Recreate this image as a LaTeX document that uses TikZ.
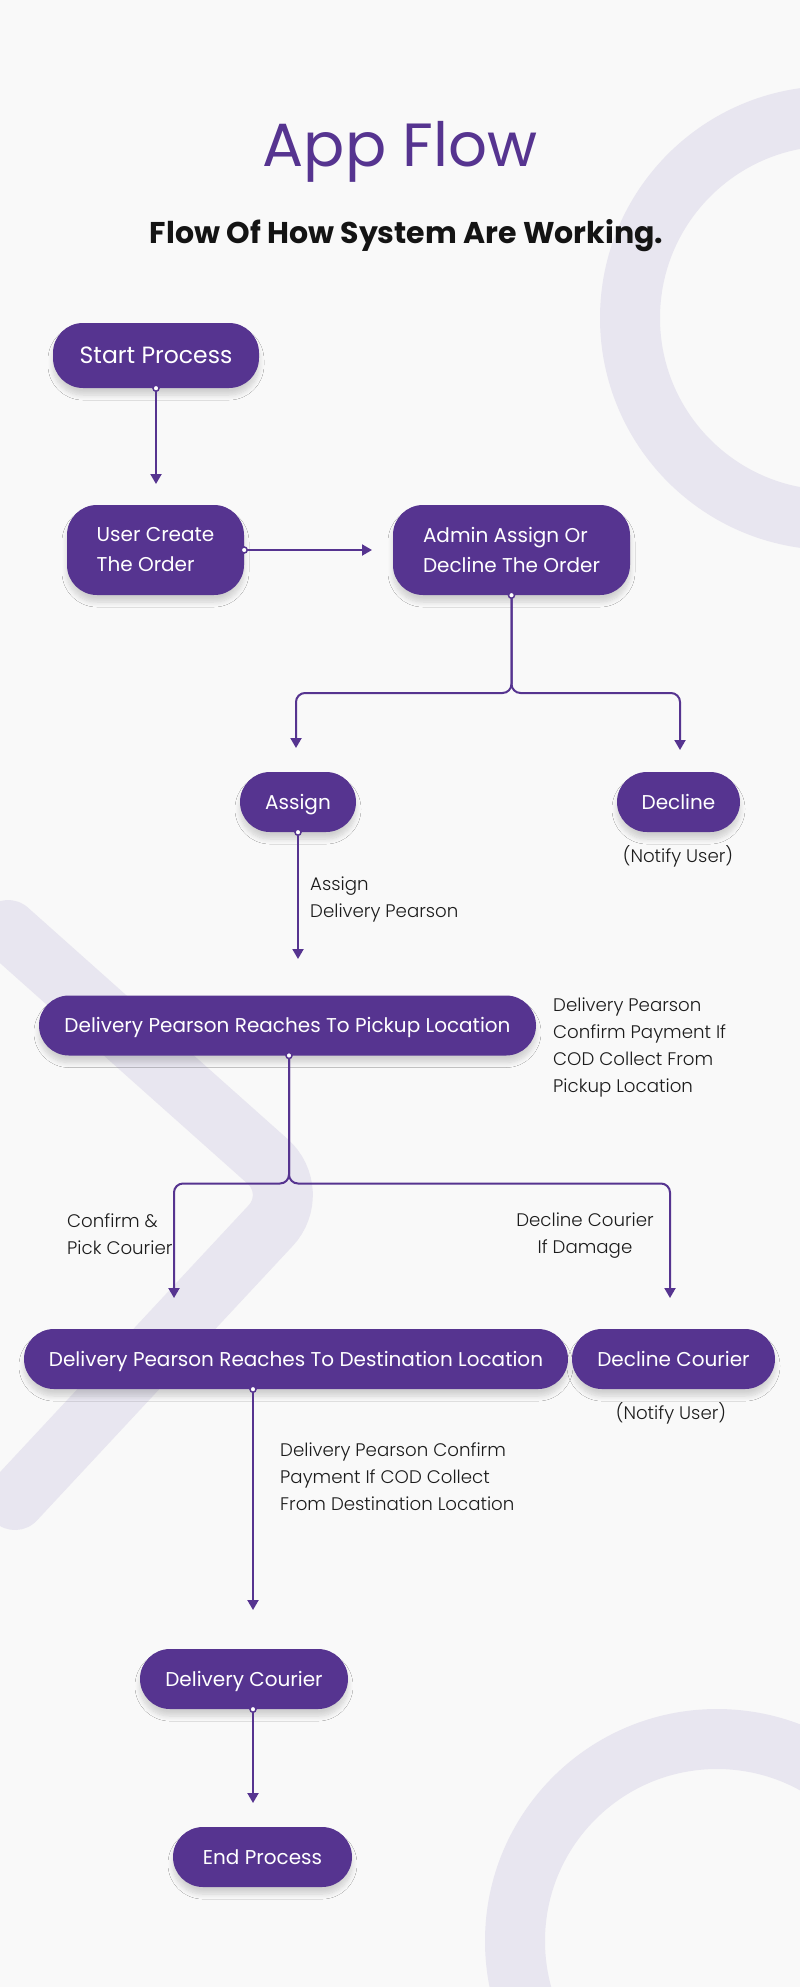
\documentclass[tikz,border=0pt]{standalone}
\usepackage{fontspec}
\setmainfont{Poppins}
\newfontfamily\lightfont{Poppins Light}
\usetikzlibrary{arrows.meta,shadows.blur}
\definecolor{bgc}{HTML}{F9F9F9}
\definecolor{ringc}{HTML}{E8E6F0}
\definecolor{purp}{HTML}{563490}
\definecolor{txtc}{HTML}{1C1C1C}
\definecolor{subc}{HTML}{141414}
\begin{document}
\begin{tikzpicture}[x=1pt,y=-1pt,
  box/.style={fill=purp, rounded corners=30pt, text=white, inner sep=0pt,
    font=\fontsize{20}{30}\selectfont,
    blur shadow={shadow xshift=0pt, shadow yshift=-7pt, shadow blur radius=5pt, shadow opacity=16, shadow blur steps=8}},
  one/.style={text height=15pt, text depth=1pt},
  lbl/.style={text=txtc, inner sep=0pt, font=\lightfont\fontsize{18.2}{27}\selectfont},
  conn/.style={draw=purp, line width=2pt},
  arr/.style={conn, -{Triangle[width=11pt,length=10pt]}},
  dot/.style={circle, fill=white, draw=purp, line width=1.5pt, inner sep=0pt, minimum size=6pt},
  deco/.style={draw=ringc, line width=60pt}
]
\useasboundingbox (0,0) rectangle (800,1987);
\clip (0,0) rectangle (800,1987);
\fill[bgc] (0,0) rectangle (800,1987);
% decorative background
\draw[deco] (832,318) circle[radius=202pt];
\draw[deco] (717,1941) circle[radius=202pt];
\draw[deco, line cap=round, rounded corners=46pt] (8,930) -- (302,1192) -- (15,1500);

% titles
\node[text=purp, inner sep=0pt, anchor=base, font=\fontsize{61}{70}\selectfont] (title) at (400,166) {App Flow};
\node[text=subc, inner sep=0pt, anchor=base, font=\bfseries\fontsize{30}{36}\selectfont] (sub) at (406.5,243) {Flow Of How System Are Working.};

% boxes
\node[box, one, minimum width=206pt, minimum height=65pt, text height=17.4pt, font=\fontsize{23.5}{30}\selectfont] (start) at (156,355.5) {Start Process};
\node[box, align=left, minimum width=177pt, minimum height=90pt] (user) at (155.5,550) {User Create\\The Order};
\node[box, align=left, minimum width=237pt, minimum height=90pt] (admin) at (511.5,550) {Admin Assign Or\\Decline The Order};
\node[box, one, minimum width=116pt, minimum height=60pt] (assign) at (298,802) {Assign};
\node[box, one, minimum width=123pt, minimum height=60pt] (decline) at (678.5,802) {Decline};
\node[box, one, minimum width=497pt, minimum height=60pt] (pickup) at (287.5,1025.5) {Delivery Pearson Reaches To Pickup Location};
\node[box, one, minimum width=544pt, minimum height=60pt] (dest) at (296,1359) {Delivery Pearson Reaches To Destination Location};
\node[box, one, minimum width=203pt, minimum height=60pt] (declc) at (673.5,1359) {Decline Courier};
\node[box, one, minimum width=208pt, minimum height=60pt] (deliv) at (244,1679) {Delivery Courier};
\node[box, one, minimum width=179pt, minimum height=60pt] (endp) at (262.5,1857) {End Process};

% labels
\node[lbl, anchor=center] (n1) at (678,856) {(Notify User)};
\node[lbl, anchor=center] (n2) at (671,1413) {(Notify User)};
\node[lbl, anchor=west, align=left] (l1) at (310,899) {Assign\\Delivery Pearson};
\node[lbl, anchor=west, align=left] (l2) at (553,1047) {Delivery Pearson\\Confirm Payment If\\COD Collect From\\Pickup Location};
\node[lbl, anchor=west, align=left] (l3) at (67,1234) {Confirm \&\\Pick Courier};
\node[lbl, anchor=center, align=center] (l4) at (585,1236) {Decline Courier\\If Damage};
\node[lbl, anchor=west, align=left] (l5) at (280,1477) {Delivery Pearson Confirm\\Payment If COD Collect\\From Destination Location};

% connector endpoints
\coordinate (c1) at (156,484);
\coordinate (c2) at (372,550);
\coordinate (c3) at (296,748);
\coordinate (c4) at (680,750);
\coordinate (c5) at (298,959);
\coordinate (c6) at (174,1298);
\coordinate (c7) at (670,1298);
\coordinate (ds) at ([xshift=-43pt]dest.south);
\coordinate (c8) at (253,1610);
\coordinate (vs) at ([xshift=9pt]deliv.south);
\coordinate (c9) at (253,1803);

% connectors
\draw[arr] (start.south) -- (c1);
\draw[arr] (user.east) -- (c2);
\draw[arr, rounded corners=9pt] (admin.south) -- (511.5,693) -| (c3);
\draw[arr, rounded corners=9pt] (admin.south) -- (511.5,693) -| (c4);
\draw[arr] (assign.south) -- (c5);
\draw[arr, rounded corners=9pt] (289,1055.5) -- (289,1183.5) -| (c6);
\draw[arr, rounded corners=9pt] (289,1055.5) -- (289,1183.5) -| (c7);
\draw[arr] (ds) -- (c8);
\draw[arr] (vs) -- (c9);

% dots
\node[dot] (o1) at (start.south) {};
\node[dot] (o2) at (user.east) {};
\node[dot] (o3) at (admin.south) {};
\node[dot] (o4) at (assign.south) {};
\node[dot] (o5) at (289,1055.5) {};
\node[dot] (o6) at (ds) {};
\node[dot] (o7) at (vs) {};
\end{tikzpicture}
\end{document}
